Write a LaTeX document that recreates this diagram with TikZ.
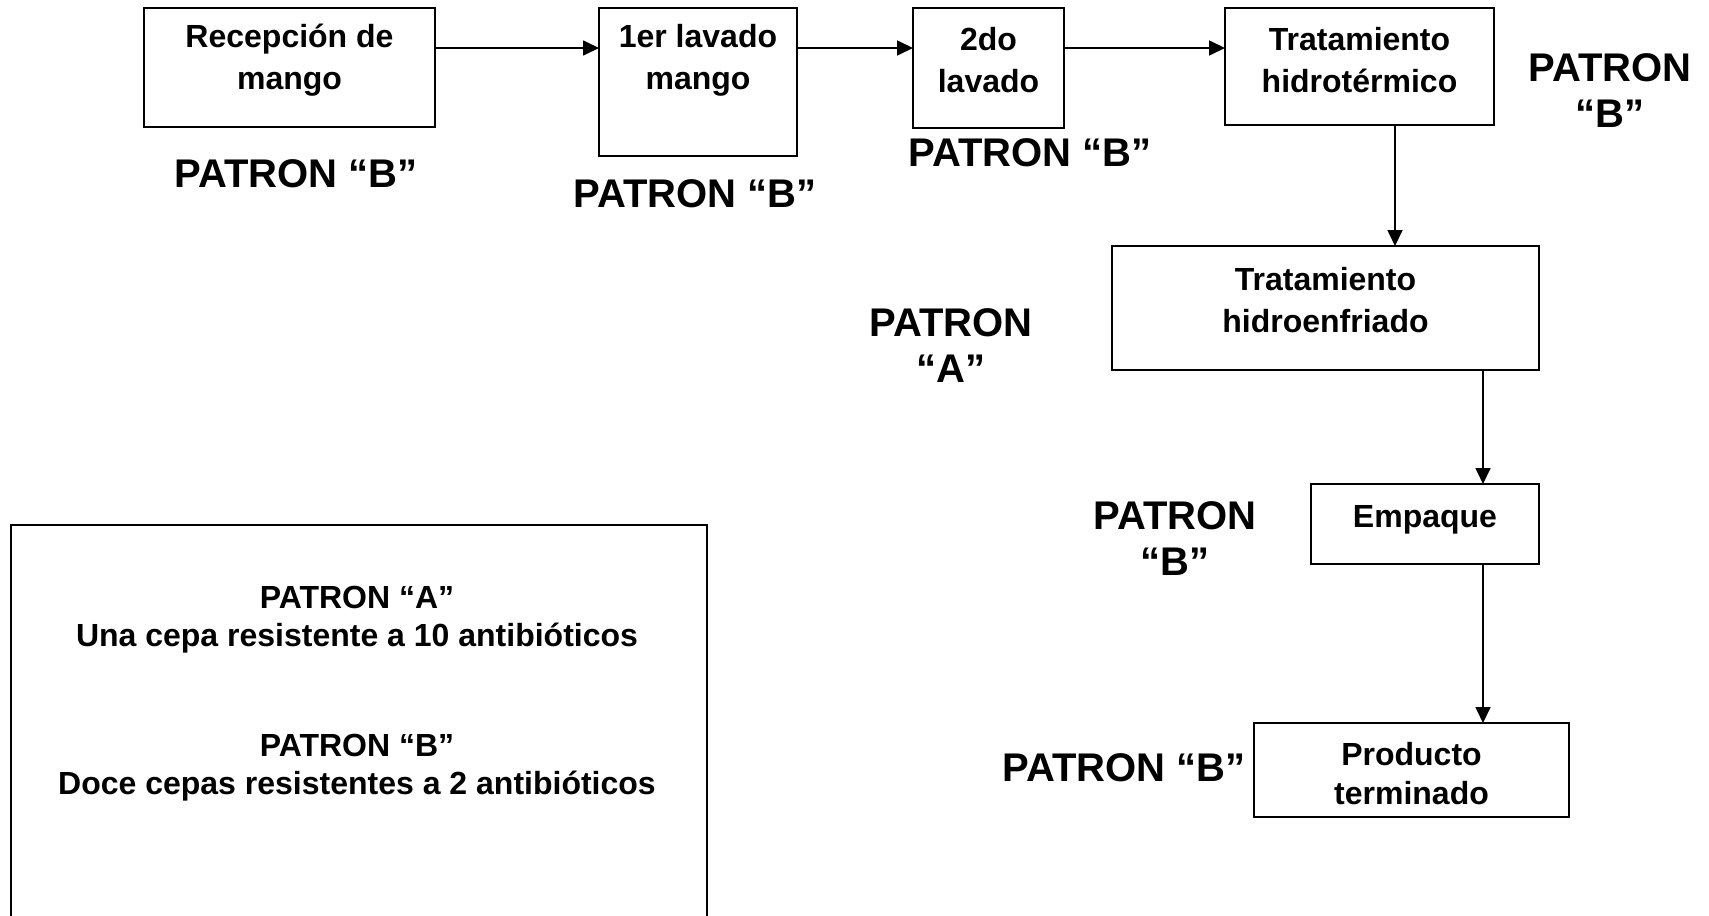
\documentclass[tikz,border=0pt]{standalone}
\usepackage{fontspec}
\setmainfont{Liberation Sans}
\usetikzlibrary{arrows.meta}
\begin{document}
\begin{tikzpicture}[x=1pt,y=-1pt,
  box/.style={draw, line width=2.1pt, inner sep=0pt, outer sep=0pt},
  btxt/.style={font=\bfseries\fontsize{32}{42}\selectfont, align=center, inner sep=0pt},
  pat/.style={font=\bfseries\fontsize{40}{46}\selectfont, align=center, inner sep=0pt},
  legtxt/.style={font=\bfseries\fontsize{32}{38}\selectfont, align=center, inner sep=0pt},
  arr/.style={line width=1.7pt, -{Triangle[length=16pt,width=15pt]}}]
\useasboundingbox (0,0) rectangle (1709,916);
% process boxes
\node[box, minimum width=291pt, minimum height=119pt] (b1) at (289.5,67.5) {};
\node[box, minimum width=198pt, minimum height=148pt] (b2) at (698,82) {};
\node[box, minimum width=151pt, minimum height=120pt] (b3) at (988.5,68) {};
\node[box, minimum width=269pt, minimum height=117pt] (b4) at (1359.5,66.5) {};
\node[box, minimum width=427pt, minimum height=124pt] (b5) at (1325.5,308) {};
\node[box, minimum width=228pt, minimum height=80pt] (b6) at (1425,524) {};
\node[box, minimum width=315pt, minimum height=94pt] (b7) at (1411.5,770) {};
% box texts
\node[btxt] (t1) at (289.5,60) {Recepción de\\mango};
\node[btxt] (t2) at (698,60) {1er lavado\\mango};
\node[btxt] (t3) at (988.5,60) {2do\\lavado};
\node[btxt] (t4) at (1359.5,60) {Tratamiento\\hidrotérmico};
\node[btxt] (t5) at (1325.5,300) {Tratamiento\\hidroenfriado};
\node[btxt] (t6) at (1425,520) {Empaque};
\node[btxt, font=\bfseries\fontsize{32}{39}\selectfont] (t7) at (1411.5,774) {Producto\\terminado};
% pattern labels
\node[pat] (p1) at (296,174) {PATRON “B”};
\node[pat] (p2) at (695,194) {PATRON “B”};
\node[pat] (p3) at (1030,153) {PATRON “B”};
\node[pat] (p4) at (1610,90.5) {PATRON\\“B”};
\node[pat] (p5) at (951,346) {PATRON\\“A”};
\node[pat] (p6) at (1175,538.5) {PATRON\\“B”};
\node[pat] (p7) at (1124,768) {PATRON “B”};
% legend
\node[inner sep=0pt, outer sep=0pt, minimum width=696pt, minimum height=391pt] (leg) at (359,720.5) {};
\draw[line width=2.1pt] (leg.south west) -- (leg.north west) -- (leg.north east) -- (leg.south east);
\node[legtxt] (la) at (357,620) {PATRON “A”\\Una cepa resistente a 10 antibióticos};
\node[legtxt] (lb) at (357,768) {PATRON “B”\\Doce cepas resistentes a 2 antibióticos};
% connectors
\draw[arr] ([yshift=-40pt]b1.north east) -- ([yshift=-40pt]b2.north west);
\draw[arr] ([yshift=-40pt]b2.north east) -- ([yshift=-40pt]b3.north west);
\draw[arr] ([yshift=-40pt]b3.north east) -- ([yshift=-40pt]b4.north west);
\coordinate (c4) at ([xshift=35.5pt]b4.south);
\draw[arr] (c4) -- (c4 |- b5.north);
\coordinate (c5) at ([xshift=157.5pt]b5.south);
\draw[arr] (c5) -- (c5 |- b6.north);
\coordinate (c6) at (b6.south -| c5);
\draw[arr] (c6) -- (c6 |- b7.north);
\end{tikzpicture}
\end{document}
